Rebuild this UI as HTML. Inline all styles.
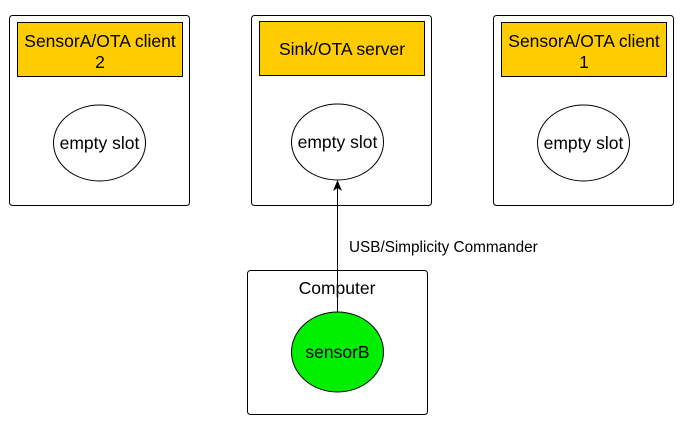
<!DOCTYPE html><html><head><style>body{margin:0;background:#fff}</style></head><body>
<svg width="692" height="431" xmlns="http://www.w3.org/2000/svg" font-family="Liberation Sans, Arial, sans-serif" font-size="17.5">
<g fill="#fff" stroke="#000" stroke-width="1">
<rect x="9.5" y="15.5" width="180" height="190" rx="3"/>
<rect x="251.5" y="15.5" width="180" height="190" rx="3"/>
<rect x="493.5" y="15.5" width="180" height="190" rx="3"/>
<rect x="247.5" y="270.5" width="180" height="144" rx="3"/>
</g>
<g fill="#ffcc00" stroke="#000">
<rect x="17.5" y="22.5" width="165" height="54"/>
<rect x="259.5" y="21.5" width="165" height="54"/>
<rect x="501.5" y="22.5" width="165" height="54"/>
</g>
<g fill="#fff" stroke="#000">
<ellipse cx="99.5" cy="143" rx="46" ry="38"/>
<ellipse cx="337.5" cy="142" rx="46" ry="38"/>
<ellipse cx="583.5" cy="143" rx="46" ry="38"/>
<ellipse cx="337.5" cy="352" rx="46" ry="40" fill="#00ee00"/>
</g>
<line x1="337.5" y1="312" x2="337.5" y2="188" stroke="#000"/>
<path d="M337.5 180 L333 191 L337.5 188 L342 191 Z" fill="#000"/>
<g text-anchor="middle" fill="#000">
<text x="100" y="47">SensorA/OTA client</text><text x="100" y="68">2</text>
<text x="342" y="55">Sink/OTA server</text>
<text x="584" y="47">SensorA/OTA client</text><text x="584" y="68">1</text>
<text x="99.5" y="149">empty slot</text>
<text x="337.5" y="148">empty slot</text>
<text x="583.5" y="149">empty slot</text>
<text x="337.5" y="358">sensorB</text>
<text x="337" y="294">Computer</text>
</g>
<text x="349" y="252" font-size="15.3">USB/Simplicity Commander</text>
</svg></body></html>
